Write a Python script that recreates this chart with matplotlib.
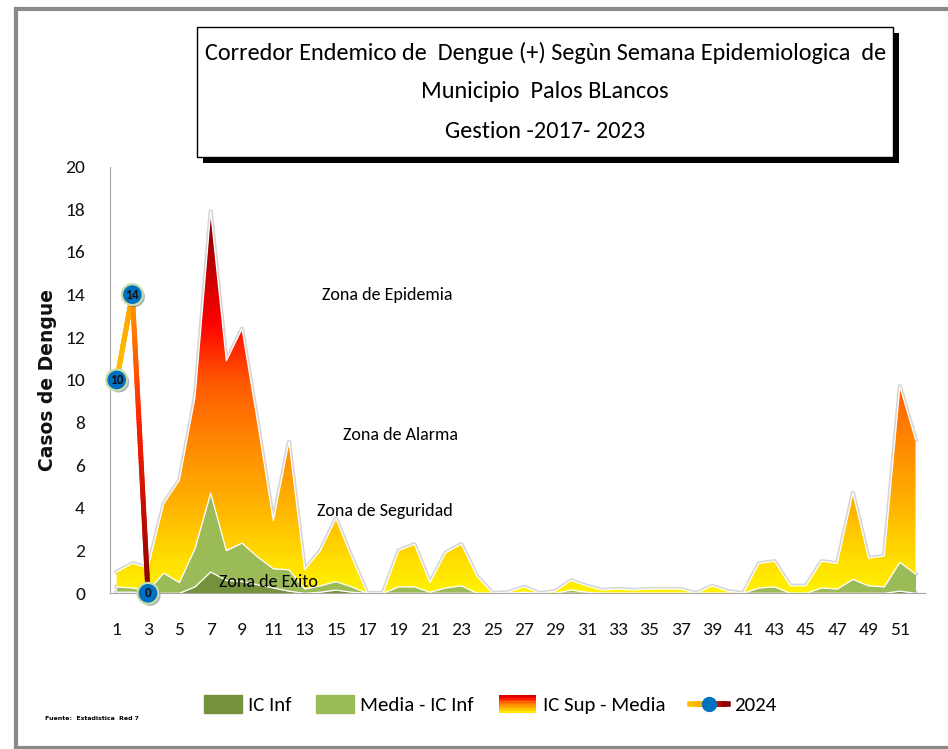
import numpy as np
import matplotlib
matplotlib.use('Agg')
import matplotlib.pyplot as plt
import matplotlib.patheffects as pe
from matplotlib import font_manager
from matplotlib.colors import LinearSegmentedColormap
from matplotlib.legend_handler import HandlerBase
from matplotlib.lines import Line2D
from matplotlib.patches import Rectangle, PathPatch

# Semanas epidemiologicas
semanas = np.arange(1, 53)

# Niveles del corredor endemico (2017-2023)
ic_inf = [0.05, 0.05, 0, 0, 0, 0.3, 1.0, 0.6, 0.55, 0.4, 0.25, 0.1, 0, 0.05, 0.15, 0.05,
          0, 0, 0, 0, 0, 0, 0, 0, 0, 0, 0, 0, 0, 0, 0, 0, 0, 0, 0, 0, 0, 0, 0, 0,
          0, 0, 0, 0, 0, 0, 0, 0, 0, 0, 0.1, 0]
media = [0.3, 0.25, 0.1, 0.95, 0.5, 2.1, 4.7, 2.0, 2.35, 1.7, 1.15, 1.1, 0.2, 0.35, 0.55, 0.3,
         0, 0, 0.3, 0.3, 0.05, 0.25, 0.35, 0, 0, 0, 0.05, 0, 0, 0.15, 0.05, 0, 0, 0, 0, 0,
         0, 0, 0, 0, 0, 0.25, 0.3, 0, 0, 0.25, 0.2, 0.65, 0.35, 0.3, 1.45, 0.9]
ic_sup = [1.0, 1.4, 1.2, 4.2, 5.3, 9.2, 17.9, 10.9, 12.4, 8.0, 3.4, 7.1, 1.1, 2.0, 3.5, 1.7,
          0, 0, 2.0, 2.3, 0.5, 1.9, 2.3, 0.8, 0, 0.05, 0.3, 0, 0.1, 0.6, 0.35, 0.15, 0.2, 0.15,
          0.2, 0.2, 0.2, 0, 0.35, 0.1, 0, 1.4, 1.5, 0.35, 0.35, 1.5, 1.4, 4.7, 1.65, 1.75, 9.7, 7.2]

# Casos 2024
semanas_2024 = [1, 2, 3]
casos_2024 = [10, 14, 0]

fuentes = {f.name for f in font_manager.fontManager.ttflist}
ANGOSTA = next((f for f in ('Carlito', 'Archivo Narrow', 'Barlow Semi Condensed')
                if f in fuentes), 'Liberation Sans')

VERDE_OSC = '#76923C'
VERDE_CLA = '#9BBB59'
cmap_zona = LinearSegmentedColormap.from_list('zona', [
    (0.0, '#FFF200'), (0.08, '#FFE000'), (0.21, '#FFB800'), (0.38, '#FF8C00'),
    (0.55, '#FF5A00'), (0.71, '#FF0000'), (0.82, '#D00000'), (1.0, '#7F0000')])
cmap_2024 = LinearSegmentedColormap.from_list('c2024', [
    (0.0, '#FFC400'), (0.5, '#FFA000'), (0.72, '#FF2000'), (1.0, '#8B0000')])

fig = plt.figure(figsize=(9.48, 7.49), dpi=100)
ax = fig.add_axes([0.116, 0.2079, 0.8597, 0.5696])
ax.set_xlim(0.57, 52.6)
ax.set_ylim(0, 20)

# areas apiladas
ax.fill_between(semanas, 0, ic_inf, color=VERDE_OSC, lw=0, zorder=2)
ax.fill_between(semanas, ic_inf, media, color=VERDE_CLA, lw=0, zorder=2)
zona = ax.fill_between(semanas, media, ic_sup, color='none', lw=0)
recorte = PathPatch(zona.get_paths()[0], transform=ax.transData, fc='none', ec='none')
ax.add_patch(recorte)

# degradado vertical de la zona IC Sup - Media
tope = max(ic_sup)
grad = ax.imshow(np.linspace(0, 1, 256).reshape(-1, 1), cmap=cmap_zona, origin='lower',
                 extent=(0.5, 52.7, 0, tope), aspect='auto', zorder=1.5)
grad.set_clip_path(recorte)

# halo gris por detras y borde blanco fino entre zonas
for nivel in (ic_inf, media, ic_sup):
    ax.plot(semanas, nivel, color='#d6d6d6', lw=3.2, zorder=1, solid_joinstyle='round')
    ax.plot(semanas, nivel, color='white', lw=0.9, zorder=3, solid_joinstyle='round')

# linea 2024 con degradado
xs = np.linspace(semanas_2024[0], semanas_2024[-1], 200)
ys = np.interp(xs, semanas_2024, casos_2024)
for i in range(len(xs) - 1):
    ax.plot(xs[i:i + 2], ys[i:i + 2], color=cmap_2024(i / (len(xs) - 2)), lw=3.6,
            solid_capstyle='round', zorder=5, clip_on=False)
ax.plot(semanas_2024, casos_2024, ls='none', marker='o', ms=15, mfc='#0070C0', mec='#C9DCA8',
        mew=1.6, zorder=6, clip_on=False,
        path_effects=[pe.SimplePatchShadow(offset=(1.5, -1.5), alpha=0.35), pe.Normal()])
for x, y in zip(semanas_2024, casos_2024):
    ax.text(x, y, str(y), ha='center', va='center', fontsize=9.5, fontweight='bold',
            family=ANGOSTA, color='#111111', zorder=7, clip_on=False)

# rotulos de zonas
for txt, x, y in [('Zona de Epidemia', 18.25, 14.0), ('Zona de Alarma', 19.1, 7.42),
                  ('Zona de Seguridad', 18.1, 3.86), ('Zona de Exito', 10.66, 0.55)]:
    ax.text(x, y, txt, ha='center', va='center', fontsize=13, family=ANGOSTA,
            color='black', zorder=4)

ax.set_xlim(0.57, 52.6)
ax.set_ylim(0, 20)
ax.set_xticks(range(1, 53, 2))
ax.set_yticks(range(0, 21, 2))
for lbl in ax.get_xticklabels() + ax.get_yticklabels():
    lbl.set_family(ANGOSTA)
    lbl.set_fontsize(14)
ax.tick_params(axis='x', length=0, pad=21, colors='#111111')
ax.tick_params(axis='y', length=0, pad=18, colors='#111111')
for s in ('top', 'right'):
    ax.spines[s].set_visible(False)
for s in ('left', 'bottom'):
    ax.spines[s].set_color('#a6a6a6')
    ax.spines[s].set_zorder(4)

fig.text(0.0496, 0.4927, 'Casos de Dengue', rotation=90, ha='center', va='center',
         fontsize=13.5, fontweight='bold', family='DejaVu Sans', color='#111111')

# cuadro del titulo con sombra
bx, by, bw, bh = 197 / 948, 1 - 157 / 749, 696 / 948, 130 / 749
fig.add_artist(Rectangle((bx + 6 / 948, by - 6 / 749), bw, bh, transform=fig.transFigure,
                         facecolor='black', lw=0, zorder=0))
fig.add_artist(Rectangle((bx, by), bw, bh, transform=fig.transFigure,
                         facecolor='white', edgecolor='black', lw=1, zorder=1))
titulos = ['Corredor Endemico de  Dengue (+) Segùn Semana Epidemiologica  de',
           'Municipio  Palos BLancos', 'Gestion -2017- 2023']
for linea, yp in zip(titulos, (53, 92, 131)):
    fig.text(0.575, 1 - yp / 749, linea, ha='center', va='center', fontsize=17.5,
             family=ANGOSTA, color='black', zorder=2)

# marco exterior
gris = '#8a8a8a'
fig.add_artist(Line2D([16 / 948, 16 / 948], [1 - 8.5 / 749, 1 - 747.5 / 749],
                      transform=fig.transFigure, color=gris, lw=3))
fig.add_artist(Line2D([16 / 948, 1], [1 - 8.5 / 749] * 2, transform=fig.transFigure, color=gris, lw=3))
fig.add_artist(Line2D([16 / 948, 1], [1 - 747.5 / 749] * 2, transform=fig.transFigure, color=gris, lw=3))


class ParcheDegradado:
    pass


class Linea2024:
    pass


class HandlerDegradado(HandlerBase):
    def create_artists(self, legend, orig_handle, xdescent, ydescent, width, height, fontsize, trans):
        n = 12
        return [Rectangle((-xdescent, -ydescent + height * i / n), width, height / n + 0.3,
                          facecolor=cmap_zona(0.05 + 0.75 * i / (n - 1)), lw=0, transform=trans)
                for i in range(n)]


class HandlerLinea(HandlerBase):
    def create_artists(self, legend, orig_handle, xdescent, ydescent, width, height, fontsize, trans):
        n = 10
        y = height / 2 - ydescent
        arts = [Line2D([-xdescent + width * k / n, -xdescent + width * (k + 1) / n], [y, y],
                       color=cmap_2024(k / (n - 1)), lw=4, transform=trans) for k in range(n)]
        arts.append(Line2D([-xdescent + width / 2], [y], marker='o', ms=10, mfc='#0070C0',
                           mec='#0070C0', transform=trans))
        return arts


handles = [Rectangle((0, 0), 1, 1, color=VERDE_OSC), Rectangle((0, 0), 1, 1, color=VERDE_CLA),
           ParcheDegradado(), Linea2024()]
fig.legend(handles, ['IC Inf', 'Media - IC Inf', 'IC Sup - Media', '2024'],
           handler_map={ParcheDegradado: HandlerDegradado(), Linea2024: HandlerLinea()},
           loc='center', bbox_to_anchor=(0.517, 0.059), ncol=4, frameon=False,
           prop=dict(family=ANGOSTA, size=15), handlelength=1.8, handleheight=0.9,
           handletextpad=0.3, columnspacing=1.2)

fig.text(45 / 948, 1 - 718 / 749, 'Fuente:  Estadistica  Red 7', fontsize=4.5,
         fontweight='bold', va='center')

fig.savefig('out.png', dpi=100)
